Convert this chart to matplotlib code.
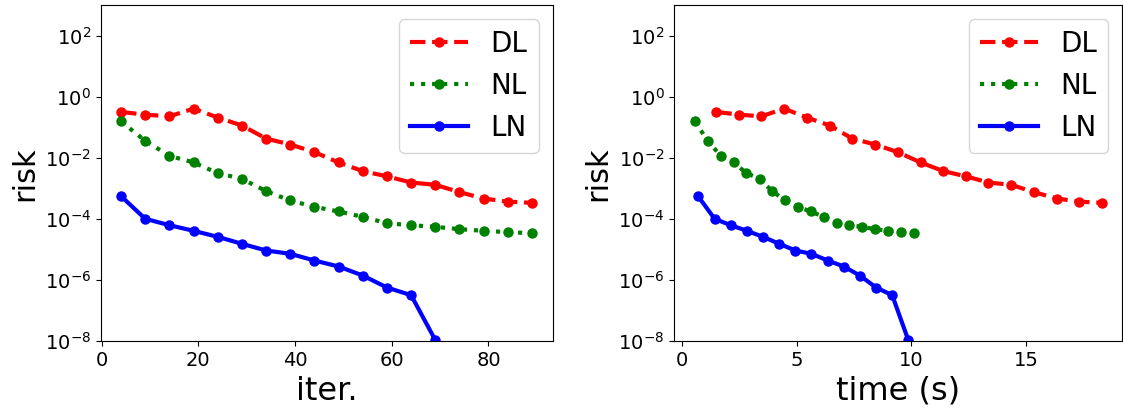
import matplotlib
matplotlib.use("Agg")
import matplotlib.pyplot as plt
from matplotlib.ticker import FixedLocator, NullLocator, MultipleLocator

# risk per outer iteration for the three solvers
iters_dl = [4, 9, 14, 19, 24, 29, 34, 39, 44, 49, 54, 59, 64, 69, 74, 79, 84, 89]
iters_nl = [4, 9, 14, 19, 24, 29, 34, 39, 44, 49, 54, 59, 64, 69, 74, 79, 84, 89]
iters_ln = [4, 9, 14, 19, 24, 29, 34, 39, 44, 49, 54, 59, 64, 69]

risk_dl = [0.32, 0.26, 0.23, 0.41, 0.21, 0.115, 0.043, 0.0275, 0.0155, 0.0071,
           0.0037, 0.0025, 0.00157, 0.00132, 0.00076, 0.00047, 0.00037, 0.00034]
risk_nl = [0.156, 0.0363, 0.0117, 0.0071, 0.00318, 0.00207, 0.00082, 0.000405,
           0.000251, 0.000177, 0.000118, 7.3e-5, 6.3e-5, 5.57e-5, 4.67e-5,
           4.12e-5, 3.73e-5, 3.45e-5]
risk_ln = [5.6e-4, 1.02e-4, 6.3e-5, 4.12e-5, 2.62e-5, 1.55e-5, 9.35e-6, 7.3e-6,
           4.4e-6, 2.8e-6, 1.42e-6, 5.75e-7, 3.23e-7, 1.1e-8]

# wall clock time (seconds) at each iteration
time_dl = [1.50, 2.49, 3.46, 4.45, 5.44, 6.44, 7.42, 8.42, 9.40, 10.40, 11.39,
           12.37, 13.35, 14.34, 15.34, 16.33, 17.32, 18.30]
time_nl = [0.55, 1.13, 1.68, 2.25, 2.81, 3.38, 3.93, 4.50, 5.05, 5.61, 6.18,
           6.74, 7.29, 7.84, 8.41, 8.98, 9.54, 10.12]
time_ln = [0.70, 1.42, 2.12, 2.83, 3.53, 4.24, 4.94, 5.64, 6.35, 7.05, 7.75,
           8.46, 9.16, 9.86]

yticks = [1e-8, 1e-6, 1e-4, 1e-2, 1e0, 1e2]

fig = plt.figure(figsize=(11.23, 4.09), dpi=100)
ax1 = fig.add_axes([0.0895, 0.1655, 0.4025, 0.822])
ax2 = fig.add_axes([0.6004, 0.1655, 0.3990, 0.822])


def draw(ax, x_dl, x_nl, x_ln, xlabel, xstep):
    ax.plot(x_dl, risk_dl, 'r--', marker='o', lw=3, ms=6.5, label='DL')
    ax.plot(x_nl, risk_nl, 'g:', marker='o', lw=3, ms=6.5, label='NL')
    ax.plot(x_ln, risk_ln, 'b-', marker='o', lw=3, ms=6.5, label='LN')
    ax.set_yscale('log')
    ax.set_ylim(1e-8, 1e3)
    ax.yaxis.set_major_locator(FixedLocator(yticks))
    ax.yaxis.set_minor_locator(NullLocator())
    ax.xaxis.set_major_locator(MultipleLocator(xstep))
    ax.tick_params(labelsize=14)
    ax.set_xlabel(xlabel, fontsize=23)
    ax.set_ylabel('risk', fontsize=22)
    ax.legend(loc='upper right', fontsize=20, handlelength=2.1)


draw(ax1, iters_dl, iters_nl, iters_ln, 'iter.', 20)
draw(ax2, time_dl, time_nl, time_ln, 'time (s)', 5)

fig.savefig('out.png', dpi=100)
